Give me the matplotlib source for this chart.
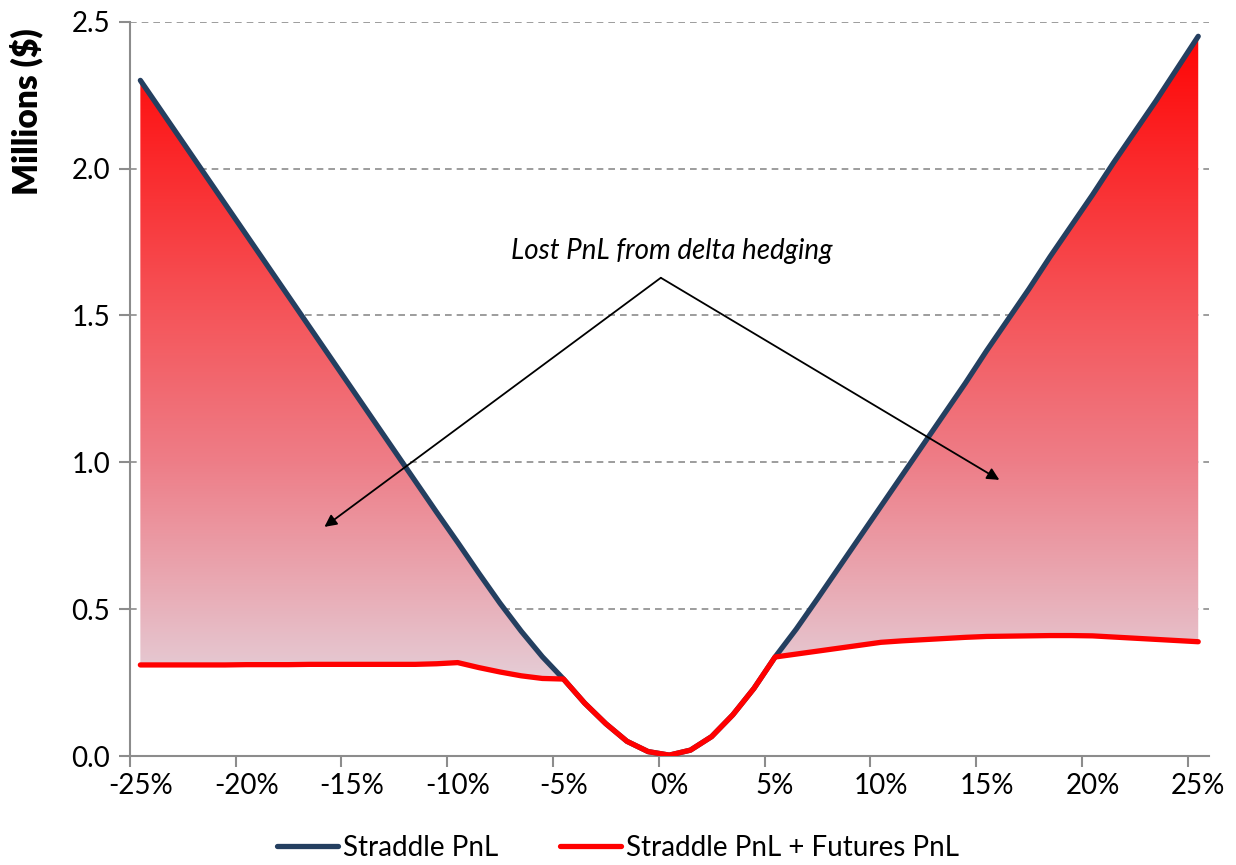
import numpy as np
import matplotlib
matplotlib.use("Agg")
import matplotlib.pyplot as plt
from matplotlib.path import Path
from matplotlib.colors import LinearSegmentedColormap

plt.rcParams['font.family'] = ['Lato', 'DejaVu Sans']

# spot move in percent, one category per 1%
moves = list(range(-25, 26))

# straddle PnL in millions
straddle = [2.30, 2.195, 2.09, 1.985, 1.88, 1.775, 1.67, 1.565, 1.46, 1.355,
            1.25, 1.145, 1.04, 0.935, 0.83, 0.727, 0.622, 0.52, 0.425, 0.338,
            0.262, 0.18, 0.11, 0.05, 0.015, 0.003, 0.02, 0.066, 0.14, 0.23,
            0.337, 0.432, 0.535, 0.64, 0.745, 0.85, 0.955, 1.06, 1.165, 1.27,
            1.38, 1.485, 1.59, 1.70, 1.805, 1.91, 2.02, 2.125, 2.23, 2.34, 2.45]

# straddle + futures hedge PnL in millions
hedged = [0.31, 0.31, 0.31, 0.31, 0.31, 0.311, 0.311, 0.311, 0.312, 0.312,
          0.312, 0.312, 0.312, 0.312, 0.314, 0.318, 0.301, 0.286, 0.273, 0.264,
          0.262, 0.18, 0.11, 0.05, 0.015, 0.003, 0.02, 0.066, 0.14, 0.23,
          0.337, 0.347, 0.357, 0.367, 0.377, 0.387, 0.392, 0.396, 0.400, 0.404,
          0.407, 0.408, 0.409, 0.410, 0.410, 0.409, 0.405, 0.401, 0.397, 0.393, 0.389]

tick_labels = ['-25%', '-20%', '-15%', '-10%', '-5%', '0%', '5%', '10%', '15%', '20%', '25%']

navy = '#243F60'
red = '#FF0000'
grey = '#8C8C8C'

x = np.arange(len(moves))

fig = plt.figure(figsize=(12.36, 8.65), dpi=100)
ax = fig.add_axes([0.105, 0.126, 0.873, 0.849])

# shaded gap between the two curves, coloured by height
fill = ax.fill_between(x, hedged, straddle, color='none', lw=0)
gap = Path.make_compound_path(*fill.get_paths())
cmap = LinearSegmentedColormap.from_list('lost', [
    (0.0, (229/255, 205/255, 214/255)),
    (0.11, (232/255, 178/255, 188/255)),
    (0.34, (238/255, 125/255, 135/255)),
    (0.57, (245/255, 85/255, 90/255)),
    (1.0, (1.0, 0.02, 0.02)),
])
grad = np.linspace(0, 1, 256).reshape(-1, 1)
im = ax.imshow(grad, cmap=cmap, origin='lower', aspect='auto',
               extent=[-0.5, len(moves) - 0.5, 0.26, 2.45], zorder=1)
im.set_clip_path(gap, transform=ax.transData)

ax.plot(x, straddle, color=navy, lw=3.8, solid_capstyle='round', zorder=3,
        label='Straddle PnL')
ax.plot(x, hedged, color=red, lw=3.8, solid_capstyle='round', zorder=4,
        label='Straddle PnL + Futures PnL')

ax.set_xlim(-0.5, len(moves) - 0.5)
ax.set_ylim(0, 2.5)

# category axis: tick marks on boundaries, labels on every fifth category
ax.set_xticks(np.arange(-0.5, len(moves), 5))
ax.set_xticklabels([])
ax.set_xticks(np.arange(0, len(moves), 5), minor=True)
ax.set_xticklabels(tick_labels, minor=True)
ax.tick_params(axis='x', which='major', length=8, width=1.5, color=grey)
ax.tick_params(axis='x', which='minor', length=0, labelsize=20, pad=12)

ax.set_yticks(np.arange(0, 2.51, 0.5))
ax.set_yticklabels(['0.0', '0.5', '1.0', '1.5', '2.0', '2.5'])
ax.tick_params(axis='y', length=8, width=1.5, color=grey, labelsize=20, pad=6)

for yv in np.arange(0.5, 2.51, 0.5):
    ax.axhline(yv, color=grey, lw=1.2, ls=(0, (4, 3)), zorder=0)

for side in ['top', 'right']:
    ax.spines[side].set_visible(False)
for side in ['left', 'bottom']:
    ax.spines[side].set_color(grey)
    ax.spines[side].set_linewidth(1.5)

# y title sits at the top of the axis
fig.text(26 / 1236, 1 - 28 / 865, 'Millions ($)', fontsize=24, fontweight='heavy',
         rotation=90, ha='center', va='top')

ax.text(25.1, 1.72, 'Lost PnL from delta hedging', fontsize=20, style='italic',
        ha='center', va='center')
for end in [(8.7, 0.78), (40.6, 0.94)]:
    ax.annotate('', xy=end, xytext=(24.6, 1.628),
                arrowprops=dict(arrowstyle='-|>', color='black', lw=1.3,
                                mutation_scale=18, shrinkA=0, shrinkB=0))

fig.legend(loc='center', bbox_to_anchor=(0.5, 0.02), ncol=2, frameon=False,
           fontsize=20, handlelength=2.2, handletextpad=0.2, columnspacing=2.2)

fig.savefig('out.png', dpi=100)
